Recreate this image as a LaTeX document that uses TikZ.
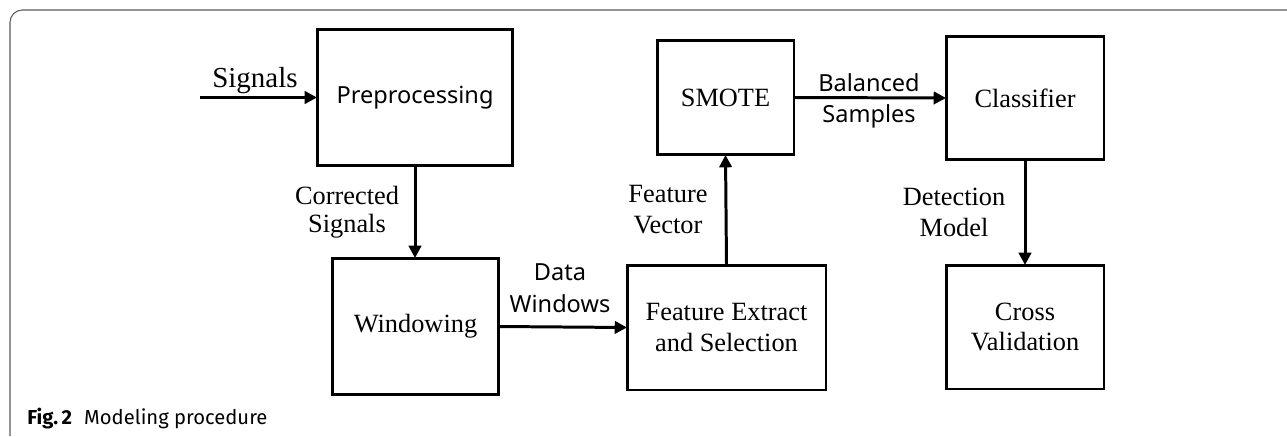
\documentclass[tikz,border=0pt]{standalone}
\usepackage{fontspec}
\setmainfont{Liberation Serif}
\newfontfamily\lsans{Noto Sans}
\newfontfamily\capfont{Fira Sans}
\usetikzlibrary{arrows.meta}
\begin{document}
\begin{tikzpicture}[x=0.02cm,y=-0.02cm,
  box/.style={draw=black, line width=1.7pt, inner sep=0pt, outer sep=0pt, align=center,
    font=\fontsize{15}{17.6}\selectfont},
  sbox/.style={box, font=\lsans\fontsize{13.4}{18}\selectfont},
  lab/.style={inner sep=0pt, align=center, font=\fontsize{15}{17.6}\selectfont},
  slab/.style={inner sep=0pt, align=center, font=\lsans\fontsize{13.4}{18}\selectfont},
  arr/.style={line width=1.7pt, -{Triangle[length=7pt,width=7pt]}},
  frame/.style={draw=black!65, line width=0.6pt, rounded corners=7pt}
]
\useasboundingbox (0,0) rectangle (1287,436);
% frame (top and left edges)
\coordinate (fbl) at (10,436);
\coordinate (ftl) at (10,10);
\coordinate (ftr) at (1287,10);
\draw[frame] (fbl) -- (ftl) -- (ftr);

% boxes
\node[sbox, minimum width=3.92cm, minimum height=2.74cm] (pre) at (415,97.5) {Preprocessing};
\node[box, minimum width=3.34cm, minimum height=2.74cm] (win) at (415.5,326.5) {Windowing};
\node[box, minimum width=3.98cm, minimum height=2.50cm] (feat) at (726.5,327.5) {Feature Extract\\and Selection};
\node[box, minimum width=2.74cm, minimum height=2.30cm] (smote) at (725.5,97.5) {SMOTE};
\node[box, minimum width=3.16cm, minimum height=2.48cm] (cls) at (1025,98) {Classifier};
\node[box, minimum width=3.16cm, minimum height=2.48cm] (cv) at (1025,327) {Cross\\Validation};

% input
\coordinate (sigin) at (200,97.5);
\node[lab, anchor=base, font=\fontsize{16.5}{19}\selectfont] (sig) at (255,87) {Signals};

% connectors
\draw[arr] (sigin) -- (pre.west);
\draw[arr] (pre.south) -- (pre.south |- win.north);
\draw[arr] (win.east) -- (feat.west);
\draw[arr] (feat.north) -- (smote.south);
\draw[arr] (smote.east) -- (cls.west);
\draw[arr] (cls.south) -- (cv.north);

% labels
\node[lab, font=\fontsize{15}{16}\selectfont] (corr) at (347,212) {Corrected\\Signals};
\node[slab] (dw) at (560,288) {Data\\Windows};
\node[lab] (fv) at (668,210) {Feature\\Vector};
\node[slab] (bs) at (869,101) {Balanced\\Samples};
\node[lab] (dm) at (954,212) {Detection\\Model};

% caption
\node[anchor=base west, inner sep=0pt, font=\capfont\fontsize{11.5}{14}\selectfont] (cap) at (27,424) {\textbf{Fig.\,2}\hspace{0.6em}Modeling procedure};
\end{tikzpicture}
\end{document}
